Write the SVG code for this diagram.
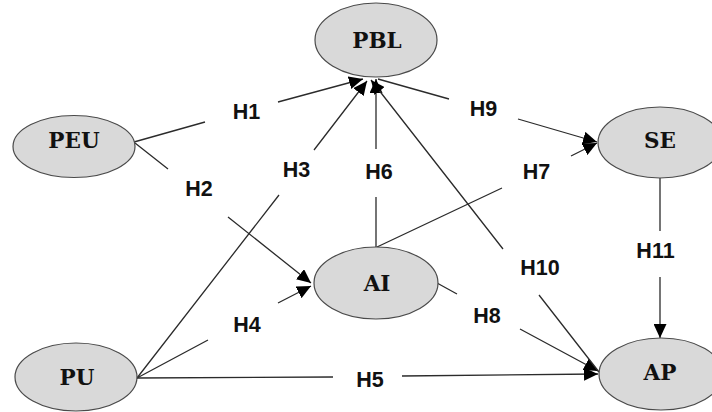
<svg xmlns="http://www.w3.org/2000/svg" width="712" height="412" viewBox="0 0 712 412">
<defs>
<marker id="arr" viewBox="0 0 14 13" markerWidth="14" markerHeight="13" refX="14" refY="6.5" orient="auto" markerUnits="userSpaceOnUse">
<path d="M0,0 L14,6.5 L0,13 z" fill="#000"/>
</marker>
<style>
.n ellipse{fill:#d9d9d9;stroke:#4a4a4a;stroke-width:1.2}
.n text{font-family:"DejaVu Serif","Liberation Serif",serif;font-weight:bold;font-size:21.5px;fill:#111;text-anchor:middle}
.e path{fill:none;stroke:#2b2b2b;stroke-width:1.3}
.e .a{marker-end:url(#arr)}
.l text{font-family:"Liberation Sans",Arial,sans-serif;font-weight:bold;font-size:21.5px;fill:#111;text-anchor:middle}
</style>
</defs>
<rect width="712" height="412" fill="#fff"/>
<g id="connectors" class="e">
<path id="H1" class="a" d="M134,142 L205,122 M278,102 L363,79"/>
<path id="H2" class="a" d="M135,143 L168,169 M228,217 L311,283"/>
<path id="H3" class="a" d="M137,378 L279,195 M314,150 L367,81"/>
<path id="H4" class="a" d="M137,378 L208,340 M278,303 L311,286"/>
<path id="H5" class="a" d="M137,378 L333,377 M402,376 L598,374"/>
<path id="H6" class="a" d="M376,247 L376,197 M376,149 L376,79"/>
<path id="H7" class="a" d="M377,247 L502,188 M571,156 L597,143"/>
<path id="H8" class="a" d="M437,283 L457,294 M520,329 L598,371"/>
<path id="H9" class="a" d="M378,79 L449,99 M518,119 L597,142"/>
<path id="H10" class="a" d="M599,372 L539,295 M503,249 L371,80"/>
<path id="H11" class="a" d="M660,178 L660,231 M660,277 L660,338"/>
</g>
<g id="edge-labels" class="l">
<text x="246.5" y="119">H1</text>
<text x="199" y="196">H2</text>
<text x="296.5" y="177">H3</text>
<text x="247" y="332">H4</text>
<text x="370" y="387">H5</text>
<text x="379" y="179">H6</text>
<text x="536.5" y="179">H7</text>
<text x="487" y="323">H8</text>
<text x="483.5" y="116">H9</text>
<text x="540" y="275">H10</text>
<text x="655.5" y="258">H11</text>
</g>
<g id="PBL" class="n"><ellipse cx="376" cy="40" rx="61" ry="37"/><text x="377" y="47.5">PBL</text></g>
<g id="PEU" class="n"><ellipse cx="74" cy="146.5" rx="61" ry="31"/><text x="74" y="148">PEU</text></g>
<g id="AI" class="n"><ellipse cx="376" cy="283" rx="62" ry="36"/><text x="377" y="290.5">AI</text></g>
<g id="SE" class="n"><ellipse cx="660" cy="142.5" rx="62" ry="35.5"/><text x="660" y="147.5">SE</text></g>
<g id="AP" class="n"><ellipse cx="661" cy="374" rx="62" ry="36"/><text x="660" y="379.5">AP</text></g>
<g id="PU" class="n"><ellipse cx="76" cy="377" rx="61" ry="34"/><text x="77" y="384.5">PU</text></g>
</svg>
